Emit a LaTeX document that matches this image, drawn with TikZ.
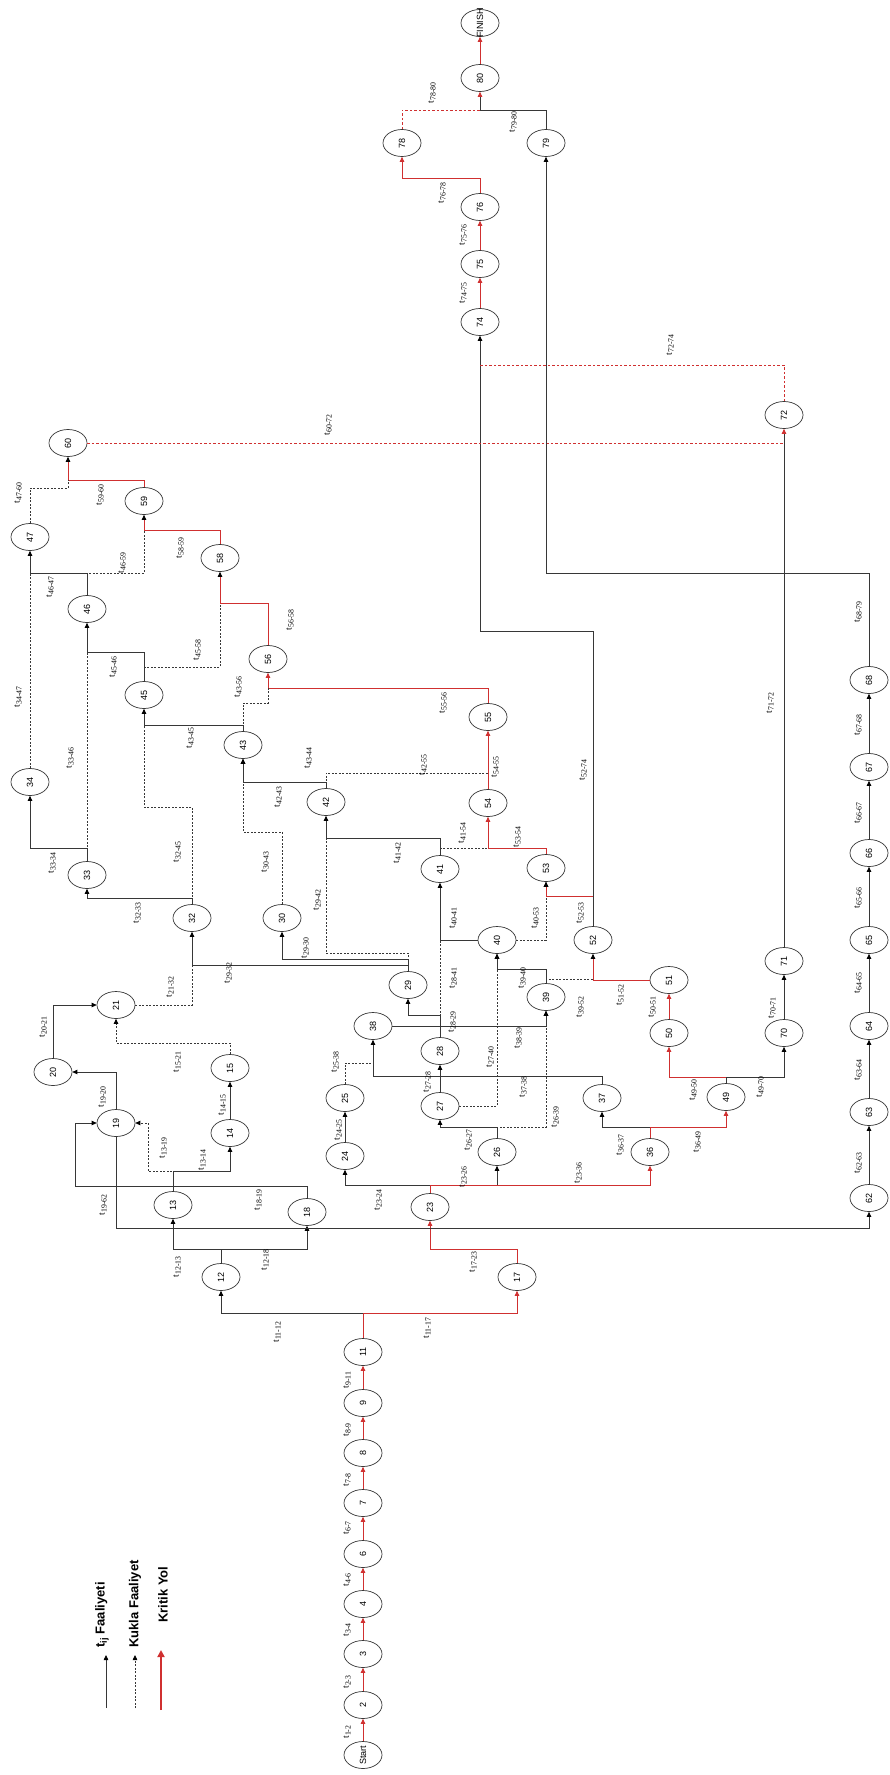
\documentclass[tikz,border=0pt]{standalone}
\usepackage{graphicx}
\usepackage{fontspec}
\setmainfont{Liberation Serif}
\newfontfamily\sansf{Liberation Sans}
\usetikzlibrary{arrows.meta,shapes.geometric}
\definecolor{lc}{RGB}{55,55,55}
\definecolor{rc}{RGB}{208,48,48}
\newcommand\nt[1]{\rotatebox{90}{\makebox[0pt]{#1}}}
\newcommand\tsub[1]{\raisebox{-1.8pt}{\fontsize{7.8}{7.8}\selectfont #1}}
\newcommand\cn[4][]{\draw[#1] (#2.north) -- (#2.north |- 0,#3) -| (#4.south);}
\begin{document}
\begin{tikzpicture}[x=1pt,y=-1pt,
  ev/.style={draw=lc, line width=0.7pt, ellipse, minimum width=38pt, minimum height=27pt, inner sep=0pt, fill=white, font=\sansf\fontsize{9}{9}\selectfont},
  lab/.style={rotate=90, inner sep=0pt, font=\fontsize{9.5}{9.5}\selectfont},
  lgt/.style={rotate=90, inner sep=0pt, anchor=west, font=\sansf\bfseries\fontsize{13}{13}\selectfont},
  ln/.style={draw=lc, line width=0.8pt},
  dl/.style={ln, dash pattern=on 2pt off 1.5pt},
  rl/.style={draw=rc, line width=0.8pt},
  rdl/.style={rl, dash pattern=on 2.5pt off 2pt},
  tb/.style={-{Triangle[length=5pt,width=4.5pt,color=black]}},
  tr/.style={-{Triangle[length=5pt,width=4.5pt,color=rc]}}]
\useasboundingbox (0,0) rectangle (889,1775);
% nodes
\node[ev] (nS) at (363,1755) {\nt{Start}};
\node[ev] (n2) at (363,1705) {\nt{2}};
\node[ev] (n3) at (363,1654) {\nt{3}};
\node[ev] (n4) at (363,1604) {\nt{4}};
\node[ev] (n6) at (363,1554) {\nt{6}};
\node[ev] (n7) at (363,1503) {\nt{7}};
\node[ev] (n8) at (363,1453) {\nt{8}};
\node[ev] (n9) at (363,1403) {\nt{9}};
\node[ev] (n11) at (363,1352) {\nt{11}};
\node[ev] (n12) at (221,1277) {\nt{12}};
\node[ev] (n17) at (517,1277) {\nt{17}};
\node[ev] (n13) at (173,1205) {\nt{13}};
\node[ev] (n18) at (307,1212) {\nt{18}};
\node[ev] (n23) at (430,1207) {\nt{23}};
\node[ev] (n62) at (869,1198) {\nt{62}};
\node[ev] (n14) at (230,1133) {\nt{14}};
\node[ev] (n15) at (230,1068) {\nt{15}};
\node[ev] (n19) at (116,1123) {\nt{19}};
\node[ev] (n20) at (53,1072) {\nt{20}};
\node[ev] (n21) at (116,1005) {\nt{21}};
\node[ev] (n24) at (345,1156) {\nt{24}};
\node[ev] (n25) at (345,1098) {\nt{25}};
\node[ev] (n26) at (497,1152) {\nt{26}};
\node[ev] (n27) at (440,1106) {\nt{27}};
\node[ev] (n28) at (440,1051) {\nt{28}};
\node[ev] (n36) at (650,1152) {\nt{36}};
\node[ev] (n37) at (602,1098) {\nt{37}};
\node[ev] (n49) at (726,1097) {\nt{49}};
\node[ev] (n50) at (669,1033) {\nt{50}};
\node[ev] (n51) at (669,980) {\nt{51}};
\node[ev] (n70) at (784,1033) {\nt{70}};
\node[ev] (n71) at (784,961) {\nt{71}};
\node[ev] (n38) at (373,1026) {\nt{38}};
\node[ev] (n29) at (408,985) {\nt{29}};
\node[ev] (n39) at (546,997) {\nt{39}};
\node[ev] (n40) at (497,940) {\nt{40}};
\node[ev] (n52) at (593,940) {\nt{52}};
\node[ev] (n41) at (440,869) {\nt{41}};
\node[ev] (n53) at (546,868) {\nt{53}};
\node[ev] (n32) at (192,918) {\nt{32}};
\node[ev] (n30) at (282,918) {\nt{30}};
\node[ev] (n33) at (87,875) {\nt{33}};
\node[ev] (n34) at (30,782) {\nt{34}};
\node[ev] (n42) at (326,802) {\nt{42}};
\node[ev] (n43) at (243,745) {\nt{43}};
\node[ev] (n54) at (488,803) {\nt{54}};
\node[ev] (n55) at (488,717) {\nt{55}};
\node[ev] (n56) at (268,659) {\nt{56}};
\node[ev] (n45) at (144,695) {\nt{45}};
\node[ev] (n46) at (87,609) {\nt{46}};
\node[ev] (n47) at (30,537) {\nt{47}};
\node[ev] (n58) at (220,558) {\nt{58}};
\node[ev] (n59) at (144,501) {\nt{59}};
\node[ev] (n60) at (68,443) {\nt{60}};
\node[ev] (n63) at (869,1112) {\nt{63}};
\node[ev] (n64) at (869,1026) {\nt{64}};
\node[ev] (n65) at (869,940) {\nt{65}};
\node[ev] (n66) at (869,853) {\nt{66}};
\node[ev] (n67) at (869,767) {\nt{67}};
\node[ev] (n68) at (869,680) {\nt{68}};
\node[ev] (n72) at (784,415) {\nt{72}};
\node[ev] (n74) at (480,322) {\nt{74}};
\node[ev] (n75) at (480,264) {\nt{75}};
\node[ev] (n76) at (480,207) {\nt{76}};
\node[ev] (n78) at (402,143) {\nt{78}};
\node[ev] (n79) at (546,143) {\nt{79}};
\node[ev] (n80) at (480,78) {\nt{80}};
\node[ev] (nF) at (480,23) {\nt{FINISH}};
% connectors
\foreach \a/\b in {nS/n2,n2/n3,n3/n4,n4/n6,n6/n7,n7/n8,n8/n9,n9/n11}
  \draw[rl,tr] (\a.north) -- (\b.south);
\cn[ln,tb]{n11}{1313}{n12}
\cn[rl,tr]{n11}{1313}{n17}
\cn[ln,tb]{n12}{1249}{n13}
\cn[ln,tb]{n12}{1249}{n18}
\cn[rl,tr]{n17}{1249}{n23}
\draw[ln,tb] (n18.north) -- (n18.north |- 0,1186) -- (75,1186) |- (n19.west);
\cn[ln,tb]{n13}{1171}{n14}
\draw[dl,tb] (n13.north) -- (n13.north |- 0,1171) -- (148,1171) |- (n19.east);
\draw[ln,tb] (n14.north) -- (n15.south);
\draw[ln,tb] (n19.south) -- (n19.south |- 0,1228) -| (n62.south);
\draw[ln,tb] (n19.north) |- (n20.east);
\draw[ln,tb] (n20.north) |- (n21.west);
\cn[dl,tb]{n15}{1043}{n21}
\draw[dl] (n21.east) -| (n32.south |- 0,965);
\cn[ln,tb]{n23}{1185}{n24}
\cn[ln,tb]{n23}{1185}{n26}
\cn[rl,tr]{n23}{1185}{n36}
\draw[ln,tb] (n24.north) -- (n25.south);
\draw[dl] (n25.north) -- (n25.north |- 0,1063) -- (n38.south |- 0,1063);
\cn[ln,tb]{n26}{1127}{n27}
\cn[dl,tb]{n26}{1127}{n39}
\draw[ln,tb] (n27.north) -- (n28.south);
\draw[dl,tb] (n27.east) -| (n40.south);
\cn[ln,tb]{n36}{1127}{n37}
\cn[rl,tr]{n36}{1127}{n49}
\cn[ln,tb]{n37}{1076}{n38}
\cn[rl,tr]{n49}{1077}{n50}
\cn[ln,tb]{n49}{1077}{n70}
\draw[rl,tr] (n50.north) -- (n51.south);
\draw[ln,tb] (n70.north) -- (n71.south);
\draw[rl,tb] (n51.west) -| (n52.south);
\cn[ln,tb]{n28}{1015}{n29}
\draw[dl] (n28.north) -- (n28.north |- n40.west);
\draw[ln,tb] (n38.east) -| (n39.south);
\cn[ln,tb]{n39}{969}{n40}
\draw[dl] (n39.north) -- (n39.north |- 0,979) -- (n52.south |- 0,979);
\draw[ln,tb] (n40.west) -| (n41.south);
\draw[dl,tb] (n40.east) -| (n53.south);
\cn[rl,tb]{n52}{896}{n53}
\cn[ln,tb]{n52}{631}{n74}
\cn[rl,tr]{n53}{848}{n54}
\draw[dl] (n41.north) -- (n41.north |- 0,848) -- (n54.south |- 0,848);
\cn[ln,tb]{n41}{838}{n42}
\draw[rl,tr] (n54.north) -- (n55.south);
\cn[ln,tb]{n42}{782}{n43}
\draw[dl] (n42.north) -- (n42.north |- 0,773) -- (n55.south |- 0,773);
\cn[rl,tr]{n55}{688}{n56}
\draw[dl] (n43.north) -- (n43.north |- 0,703) -| (n56.south |- 0,688);
\cn[ln,tb]{n43}{725}{n45}
\cn[dl,tb]{n30}{832}{n43}
\draw[dl] (n29.north) -- (n29.north |- 0,953) -| (n42.south |- 0,838);
\cn[ln,tb]{n29}{959}{n30}
\cn[ln,tb]{n29}{965}{n32}
\cn[ln,tb]{n32}{898}{n33}
\draw[dl] (n32.north) -- (n32.north |- 0,807) -| (n45.south |- 0,725);
\cn[ln,tb]{n33}{848}{n34}
\draw[dl] (n33.north) -- (n46.south |- 0,652);
\cn[ln,tb]{n45}{652}{n46}
\draw[dl] (n45.north) -- (n45.north |- 0,667) -| (n58.south |- 0,603);
\cn[rl,tb]{n56}{603}{n58}
\cn[ln,tb]{n46}{573}{n47}
\draw[dl] (n46.north) -- (n46.north |- 0,573) -| (n59.south |- 0,530);
\draw[dl] (n34.north) -- (n47.south |- 0,573);
\cn[rl,tb]{n58}{530}{n59}
\cn[rl,tb]{n59}{480}{n60}
\draw[dl] (n47.north) -- (n47.north |- 0,488) -| (n60.south |- 0,480);
\draw[rdl] (n60.east) -- (n72.south |- n60.east);
\draw[ln,tr] (n71.north) -- (n72.south);
\draw[rdl] (n72.north) -- (n72.north |- 0,365) -- (n74.south |- 0,365);
\draw[rl,tr] (n74.north) -- (n75.south);
\draw[rl,tr] (n75.north) -- (n76.south);
\cn[rl,tr]{n76}{178}{n78}
\draw[rdl] (n78.north) -- (n78.north |- 0,110) -- (n80.south |- 0,110);
\cn[ln,tr]{n79}{110}{n80}
\draw[rl,tr] (n80.north) -- (nF.south);
\foreach \a/\b in {n62/n63,n63/n64,n64/n65,n65/n66,n66/n67,n67/n68}
  \draw[ln,tb] (\a.north) -- (\b.south);
\cn[ln,tb]{n68}{573}{n79}
% activity labels
\foreach \x/\y/\t in {347/1732/1-2,347/1682/2-3,347/1630/3-4,347/1580/4-6,347/1528/6-7,347/1480/7-8,347/1430/8-9,347/1380/9-11,
  277/1332/11-12,427/1328/11-17,177/1267/12-13,265/1260/12-18,473/1262/17-23,
  103/1205/19-62,258/1200/18-19,378/1200/23-24,163/1148/13-19,202/1160/13-14,222/1105/14-15,
  102/1097/19-20,43/1027/20-21,177/1062/15-21,170/987/21-32,228/973/29-32,305/948/29-30,317/900/29-42,
  137/913/32-33,177/852/32-45,52/863/33-34,70/758/33-46,18/697/34-47,
  265/862/30-43,278/797/42-43,308/758/43-44,423/765/42-55,190/738/43-45,238/687/43-56,113/667/45-46,
  197/650/45-58,290/620/56-58,50/587/46-47,122/563/46-59,180/548/58-59,100/495/59-60,18/493/47-60,
  443/703/55-56,495/767/54-55,462/833/41-54,517/837/53-54,397/853/41-42,
  583/770/52-74,770/703/71-72,858/612/68-79,858/725/67-68,858/813/66-67,858/898/65-66,858/983/64-65,858/1070/63-64,858/1163/62-63,
  328/425/60-72,670/345/72-74,463/293/74-75,463/235/75-76,442/193/76-78,432/93/78-80,513/122/79-80,
  453/918/40-41,453/978/28-41,452/1022/28-29,518/1038/38-39,522/978/39-40,580/1007/39-52,535/918/40-53,580/913/52-53,620/995/51-52,652/1007/50-51,
  463/1177/23-26,578/1173/23-36,468/1140/26-27,555/1117/26-39,490/1057/27-40,427/1082/27-28,523/1087/37-38,335/1062/25-38,338/1130/24-25,
  620/1145/36-37,697/1142/36-49,693/1090/49-50,760/1087/49-70,772/1008/70-71}
  \node[lab] (l\t) at (\x,\y) {t\tsub{\t}};
% legend
\coordinate (la1) at (106,1708); \coordinate (la2) at (106,1655);
\coordinate (lb1) at (135,1708); \coordinate (lb2) at (135,1655);
\coordinate (lc1) at (161,1710); \coordinate (lc2) at (161,1650);
\draw[ln,tb] (la1) -- (la2);
\draw[dl,tb] (lb1) -- (lb2);
\draw[draw=rc, line width=2pt, -{Triangle[length=7pt,width=7pt,color=rc]}] (lc1) -- (lc2);
\node[lgt] (lt1) at (102,1648) {t\textsubscript{ij} Faaliyeti};
\node[lgt] (lt2) at (135,1648) {Kukla Faaliyet};
\node[lgt] (lt3) at (163,1623) {Kritik Yol};
\end{tikzpicture}
\end{document}
